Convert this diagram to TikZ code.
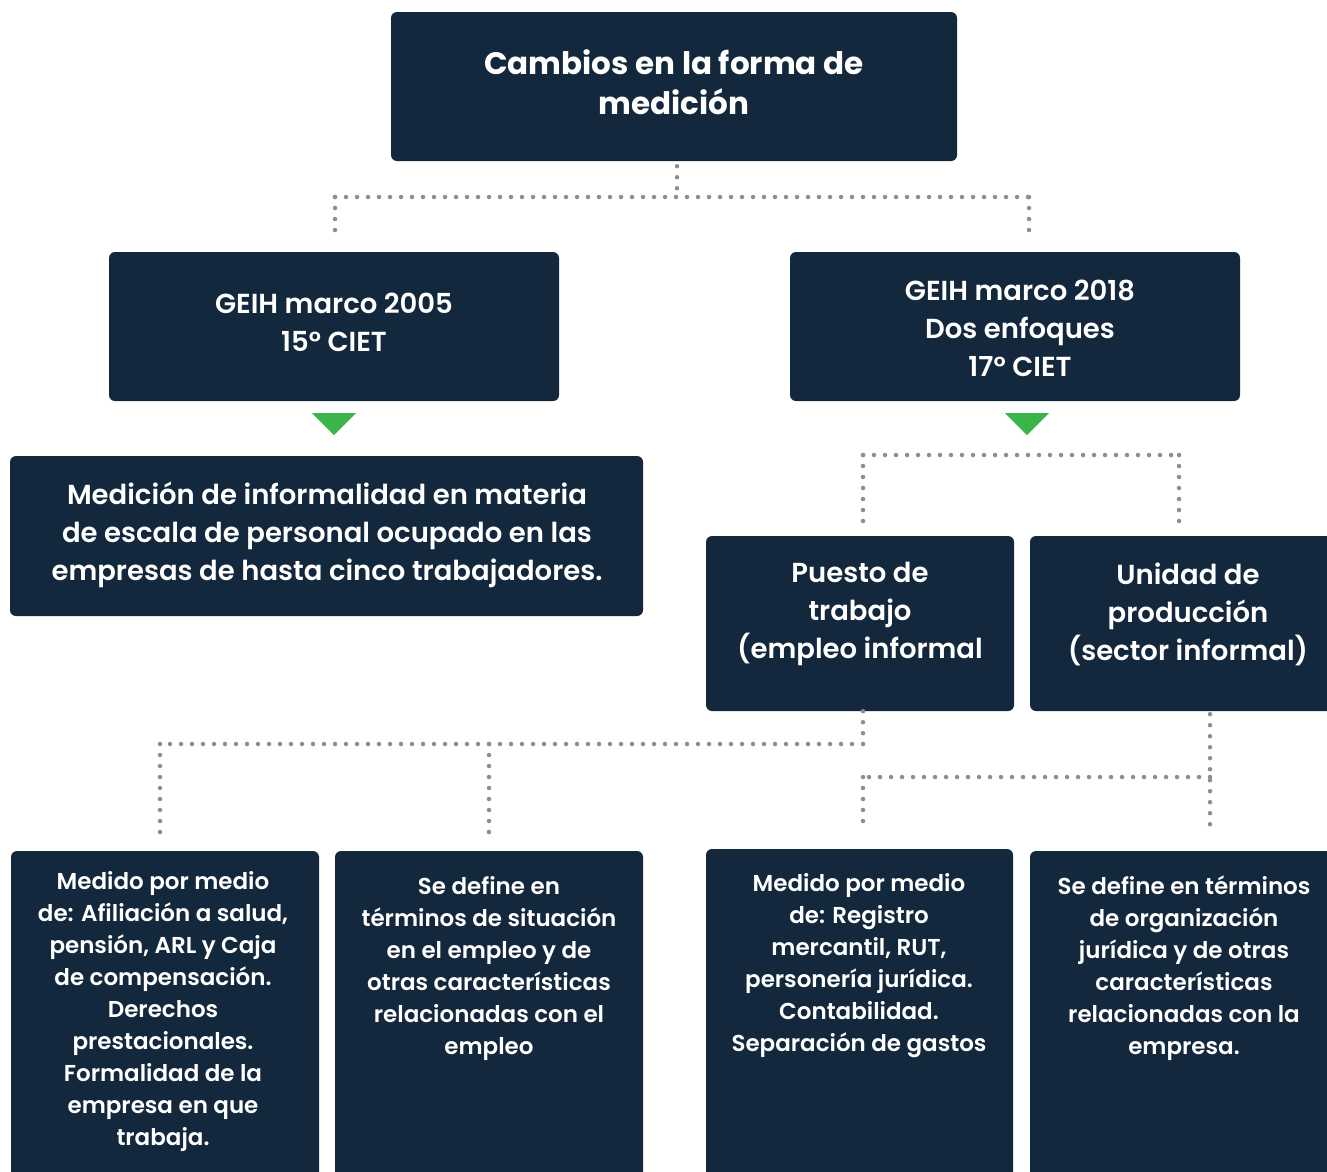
\documentclass[tikz,border=0pt]{standalone}
\usepackage{fontspec}
\setmainfont{Poppins}[UprightFont=* SemiBold, BoldFont=* Bold]
\definecolor{navy}{HTML}{13283D}
\definecolor{tgreen}{HTML}{3BB54A}
\definecolor{dotgray}{HTML}{8E8E8E}
\begin{document}
\begin{tikzpicture}[x=1pt,y=-1pt,
  box/.style={fill=navy, rounded corners=6pt, inner sep=0pt, draw=none},
  txt/.style={text=white, align=center, inner sep=0pt},
  big/.style={font=\fontsize{27.5}{38}\selectfont},
  small/.style={font=\fontsize{23}{32}\selectfont},
  dots/.style={dotgray, line width=4.5pt, line cap=round, dash pattern=on 0pt off 11pt},
  tri/.style={fill=tgreen}]
\useasboundingbox (0,0) rectangle (1327,1171);
\clip (0,0) rectangle (1327,1171);
\fill[white] (0,0) rectangle (1327,1171);
% boxes
\node[box, minimum width=566pt, minimum height=149pt] (top) at (674,86.5) {};
\node[box, minimum width=450pt, minimum height=149pt] (g05) at (334,326.5) {};
\node[box, minimum width=450pt, minimum height=149pt] (g18) at (1015,326.5) {};
\node[box, minimum width=633pt, minimum height=160pt] (med) at (326.5,536) {};
\node[box, minimum width=308pt, minimum height=175pt] (pue) at (860,623.5) {};
\node[box, minimum width=310pt, minimum height=175pt] (uni) at (1185,623.5) {};
\node[box, minimum width=308pt, minimum height=349pt] (b1) at (165,1025.5) {};
\node[box, minimum width=308pt, minimum height=349pt] (b2) at (489,1025.5) {};
\node[box, minimum width=307pt, minimum height=351pt] (b3) at (859.5,1024.5) {};
\node[box, minimum width=310pt, minimum height=349pt] (b4) at (1185,1025.5) {};
% texts
\node[txt, font=\fontsize{31}{40}\selectfont\bfseries] (ttop) at (674,82) {Cambios en la forma de\\medición};
\node[txt, big] (t05) at (334,322) {GEIH marco 2005\\15° CIET};
\node[txt, big] (t18) at (1020,328) {GEIH marco 2018\\Dos enfoques\\17° CIET};
\node[txt, big] (tmed) at (327,534.5) {Medición de informalidad en materia\\de escala de personal ocupado en las\\empresas de hasta cinco trabajadores.};
\node[txt, big] (tpue) at (860,614) {Puesto de\\trabajo\\(empleo informal};
\node[txt, big] (tuni) at (1188,614) {Unidad de\\producción\\(sector informal)};
\node[txt, small] (tb1) at (163,1011) {Medido por medio\\de: Afiliación a salud,\\pensión, ARL y Caja\\de compensación.\\Derechos\\prestacionales.\\Formalidad de la\\empresa en que\\trabaja.};
\node[txt, small] (tb2) at (489,968) {Se define en\\términos de situación\\en el empleo y de\\otras características\\relacionadas con el\\empleo};
\node[txt, small] (tb3) at (859,966) {Medido por medio\\de: Registro\\mercantil, RUT,\\personería jurídica.\\Contabilidad.\\Separación de gastos};
\node[txt, small] (tb4) at (1184,968) {Se define en términos\\de organización\\jurídica y de otras\\características\\relacionadas con la\\empresa.};
% green triangles
\fill[tri] ([xshift=-22pt,yshift=-12pt]g05.south) -- ([xshift=22pt,yshift=-12pt]g05.south) -- ([yshift=-34pt]g05.south) -- cycle;
\fill[tri] ([xshift=-10pt,yshift=-12pt]g18.south) -- ([xshift=34pt,yshift=-12pt]g18.south) -- ([xshift=12pt,yshift=-34pt]g18.south) -- cycle;
% junction coordinates
\coordinate (j0) at (677,197);
\coordinate (jl) at (335,197);
\coordinate (jr) at (1029,197);
\coordinate (jle) at (335,240);
\coordinate (jre) at (1029,240);
\coordinate (k1) at (863,455);
\coordinate (k2) at (1179,455);
\coordinate (k1e) at (863,523);
\coordinate (k2e) at (1179,523);
\coordinate (p1) at (863,744);
\coordinate (p2) at (160,744);
\coordinate (p3) at (489,744);
\coordinate (p2e) at (160,835);
\coordinate (p3e) at (489,835);
\coordinate (u1) at (1210,835);
\coordinate (u2) at (1210,777);
\coordinate (u3) at (863,777);
\coordinate (u3e) at (863,832);
% connectors
\draw[dots] ([xshift=3pt,yshift=-5pt]top.south) -- (j0);
\draw[dots] (jl) -- (jr);
\draw[dots] (jl) -- (jle);
\draw[dots] (jr) -- (jre);
\draw[dots] (k1) -- (k2);
\draw[dots] (k1) -- (k1e);
\draw[dots] (k2) -- (k2e);
\draw[dots] ([xshift=3pt]pue.south) -- (p1);
\draw[dots] (p1) -- (p2);
\draw[dots] (p2) -- (p2e);
\draw[dots] (p3) -- (p3e);
\draw[dots] ([xshift=25pt,yshift=-3pt]uni.south) -- (u1);
\draw[dots] (u2) -- (u3);
\draw[dots] (u3) -- (u3e);
\end{tikzpicture}
\end{document}
